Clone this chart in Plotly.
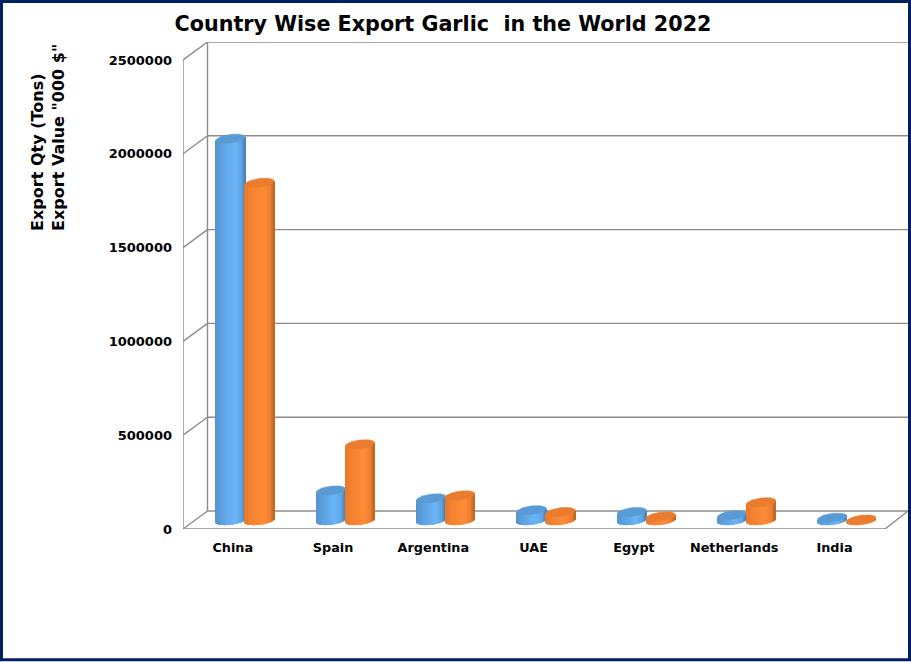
import numpy as np
import plotly.graph_objects as go

TITLE = "Country Wise Export Garlic  in the World 2022"
categories = ["China", "Spain", "Argentina", "UAE", "Egypt", "Netherlands", "India"]
export_qty = [2035000, 160000, 118000, 55000, 45000, 28000, 15000]
export_value = [1800000, 406000, 134000, 45000, 22000, 97000, 5000]
tick_values = [0, 500000, 1000000, 1500000, 2000000, 2500000]

W, H = 911, 662
L, R, T, B = 183.0, 911.0, 42.0, 529.5
UNIT = 2500000 / 469.5          # value per pixel
PPX = 100.3                     # pixels per category
CAT0 = 232.7                    # pixel of first category label
BAR_ZERO = 521.0                # pixel of value 0 for the cylinders
A, EB, SHEAR = 14.7, 4.3, 0.12
GROUP_SHIFT = 12.3
DEPTH_X, DEPTH_Y = 24.5, 18.0
NS = 29

GREY = "#8c8c8c"
FONT = "DejaVu Sans"

blue_stops = [(-1, "#5693CC"), (-0.5, "#5DA2E2"), (0.3, "#6BB5F8"), (0.75, "#5FA5E4"), (1, "#4A7FB0")]
orange_stops = [(-1, "#E5792B"), (-0.5, "#F58331"), (0.3, "#FF8C35"), (0.75, "#EE7F30"), (1, "#BC6423")]


def hex_rgb(h):
    return np.array([int(h[i:i + 2], 16) for i in (1, 3, 5)], float)


def shade(stops, u):
    for (u0, c0), (u1, c1) in zip(stops, stops[1:]):
        if u <= u1:
            f = (u - u0) / (u1 - u0)
            r = hex_rgb(c0) * (1 - f) + hex_rgb(c1) * f
            return "rgb(%d,%d,%d)" % tuple(r)
    return stops[-1][1]


fig = go.Figure()
idx = list(range(len(categories)))


def cylinders(values, center_px, stops, cap, yaxis):
    step = 2 * A / NS / PPX
    for k in range(NS):
        u = -1 + (k + 0.5) * 2 / NS
        base = (-EB * np.sqrt(1 - u * u) + SHEAR * A * u) * UNIT
        tops = [v + SHEAR * A * u * UNIT for v in values]
        extra = step * 1.7 if k < NS - 1 else step
        fig.add_trace(go.Bar(
            x=idx, y=[t - base for t in tops], base=base,
            width=extra, offset=(center_px + u * A) / PPX - step / 2,
            marker=dict(color=shade(stops, u), line=dict(width=0)),
            yaxis=yaxis, showlegend=False, hoverinfo="skip"))
    t = np.linspace(0, 2 * np.pi, 48)
    xs, ys = [], []
    for i, v in zip(idx, values):
        xs += list(i + (center_px + A * np.cos(t)) / PPX) + [None]
        ys += list(v + (EB * np.sin(t) + SHEAR * A * np.cos(t)) * UNIT) + [None]
    fig.add_trace(go.Scatter(x=xs, y=ys, mode="lines", fill="toself", fillcolor=cap,
                             line=dict(color=cap, width=0.5), yaxis=yaxis,
                             showlegend=False, hoverinfo="skip"))


cylinders(export_qty, GROUP_SHIFT - 14.5, blue_stops, "#5A9BD5", "y2")
cylinders(export_value, GROUP_SHIFT + 14.5, orange_stops, "#E97C2E", "y3")


def xv(px):
    return (px - CAT0) / PPX


shapes = []
line = dict(color=GREY, width=1.4)
x_front_l, x_back_l = xv(L), xv(L + DEPTH_X)
x_front_r, x_back_r = xv(885), xv(908)
for v in tick_values:
    vb = v + DEPTH_Y * UNIT
    shapes.append(dict(type="line", xref="x", yref="y", x0=x_front_l, x1=x_back_l, y0=v, y1=vb, line=line, layer="below"))
    shapes.append(dict(type="line", xref="x", yref="y", x0=x_back_l, x1=x_back_r, y0=vb, y1=vb, line=line, layer="below"))
vtop = tick_values[-1]
shapes.append(dict(type="line", xref="x", yref="y", x0=x_front_l, x1=x_front_l, y0=0, y1=vtop, line=line, layer="below"))
shapes.append(dict(type="line", xref="x", yref="y", x0=x_back_l, x1=x_back_l, y0=DEPTH_Y * UNIT, y1=vtop + DEPTH_Y * UNIT, line=line, layer="below"))
shapes.append(dict(type="line", xref="x", yref="y", x0=x_front_l, x1=x_front_r, y0=0, y1=0, line=line, layer="below"))
shapes.append(dict(type="line", xref="x", yref="y", x0=x_front_r, x1=x_back_r, y0=0, y1=DEPTH_Y * UNIT, line=line, layer="below"))

# chart frame
fx = lambda p: (p - L) / (R - L)
fy = lambda p: (B - p) / (B - T)
shapes.append(dict(type="rect", xref="paper", yref="paper", x0=fx(1.5), x1=fx(W - 1.5), y0=fy(H - 1.5), y1=fy(1.5),
                   line=dict(color="#002060", width=3), layer="above"))

main_range = [0, (B - T) * UNIT]
zero_range = [(BAR_ZERO - B) * UNIT, (BAR_ZERO - T) * UNIT]

fig.update_layout(
    width=W, height=H, autosize=False,
    margin=dict(l=L, r=W - R, t=T, b=H - B, pad=0),
    paper_bgcolor="white", plot_bgcolor="white",
    barmode="overlay", showlegend=False,
    font=dict(family=FONT, color="black"),
    title=dict(text=TITLE, x=443 / W, xanchor="center", xref="container",
               y=1 - 24 / H, yanchor="middle",
               font=dict(family=FONT, size=20.7, weight=700, color="black")),
    xaxis=dict(range=[xv(L), xv(R)], tickmode="array", tickvals=idx, ticktext=categories,
               showgrid=False, zeroline=False, showline=False, ticks="", ticklabelstandoff=9,
               tickfont=dict(family=FONT, size=12.8, weight=700, color="black")),
    yaxis=dict(range=main_range, tickmode="array", tickvals=tick_values,
               ticktext=[str(v) for v in tick_values], showgrid=False, zeroline=False, showline=False,
               ticks="", ticklabelstandoff=10,
               tickfont=dict(family=FONT, size=13, weight=700, color="black")),
    yaxis2=dict(range=zero_range, overlaying="y", visible=False),
    yaxis3=dict(range=zero_range, overlaying="y", visible=False),
    shapes=shapes,
    annotations=[dict(text='Export Qty (Tons)<br>Export Value "000 $"', textangle=-90, align="left",
                      xref="paper", yref="paper", x=fx(48), y=fy(138), xanchor="center", yanchor="middle",
                      showarrow=False, font=dict(family=FONT, size=16, weight=700, color="black"))],
)

fig.write_html("out.html", config=dict(displayModeBar=False),
               post_script="document.body.style.margin='0';document.body.style.overflow='hidden';")
